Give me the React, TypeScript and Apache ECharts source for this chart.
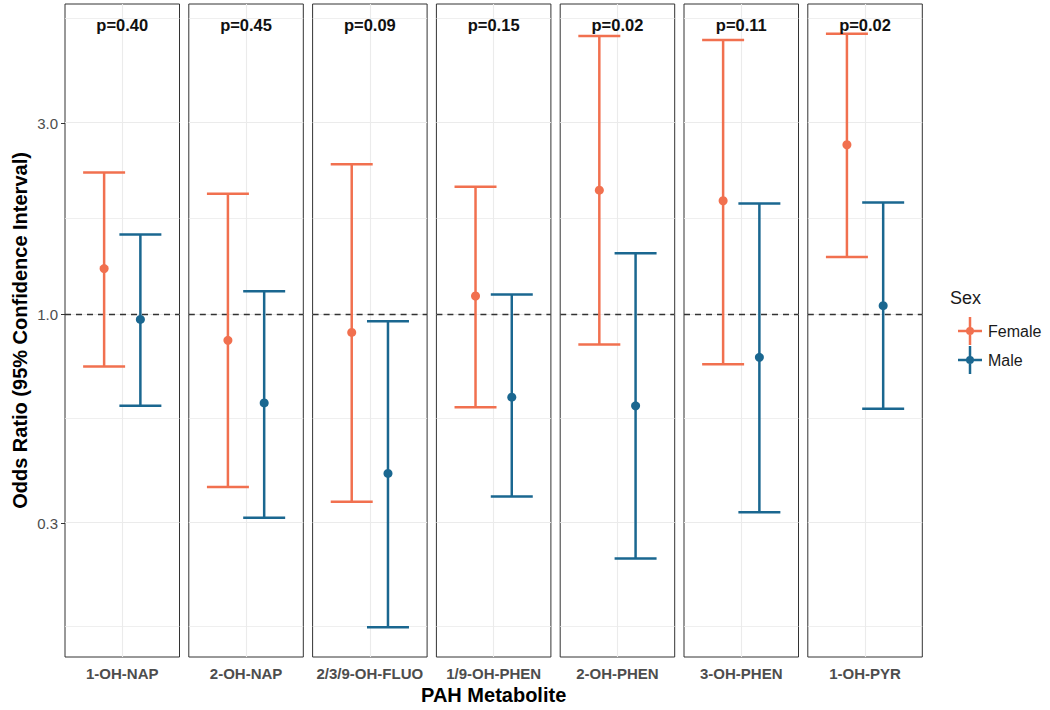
import React, { useEffect, useRef } from "react";
import * as echarts from "echarts";

// ---------- data ----------
const metabolites = ["1-OH-NAP", "2-OH-NAP", "2/3/9-OH-FLUO", "1/9-OH-PHEN", "2-OH-PHEN", "3-OH-PHEN", "1-OH-PYR"];
const pLabels = ["p=0.40", "p=0.45", "p=0.09", "p=0.15", "p=0.02", "p=0.11", "p=0.02"];
const femaleOR = [1.3, 0.86, 0.9, 1.11, 2.04, 1.92, 2.65];
const femaleLower = [0.74, 0.37, 0.34, 0.585, 0.84, 0.75, 1.39];
const femaleUpper = [2.26, 2.0, 2.37, 2.08, 4.95, 4.84, 5.02];
const maleOR = [0.97, 0.6, 0.4, 0.62, 0.59, 0.78, 1.05];
const maleLower = [0.59, 0.31, 0.165, 0.35, 0.245, 0.32, 0.58];
const maleUpper = [1.58, 1.14, 0.96, 1.12, 1.42, 1.89, 1.9];
const yTicks = [0.3, 1.0, 3.0];
const sexes = ["Female", "Male"];

// ---------- style / layout ----------
const COLORS = ["#F1704F", "#1A6790"];
const DODGE = [-0.19, 0.19];
const CAP = 0.22;
const PANEL_LEFT = 65;
const PANEL_STEP = 123.8;
const PANEL_W = 114.5;
const PANEL_TOP = 4;
const PANEL_H = 653;
const FONT = "'Liberation Sans', Arial, Helvetica, sans-serif";
const LEGEND_ICON =
  "path://M0 12.75h24v2.5h-24Z M10.75 0h2.5v28h-2.5Z M8 14a4 4 0 1 1 8 0a4 4 0 1 1 -8 0Z";

const lg = (v: number) => Math.log10(v);

function buildOption() {
  const allLo = [...femaleLower, ...maleLower].map(lg);
  const allHi = [...femaleUpper, ...maleUpper].map(lg);
  const dMin = Math.min(...allLo);
  const dMax = Math.max(...allHi);
  const ext = (dMax - dMin) * 0.05;
  const yMin = dMin - ext;
  const yMax = dMax + ext;

  const major = yTicks.map(lg);
  // ggplot-style minor breaks: midpoints, extended by the first break gap
  const bd = major[1] - major[0];
  const ext2 = [major[0] - bd, ...major, major[major.length - 1] + bd];
  const minor: number[] = [];
  for (let i = 0; i < ext2.length - 1; i++) minor.push((ext2[i] + ext2[i + 1]) / 2);

  const lows = [femaleLower, maleLower];
  const mids = [femaleOR, maleOR];
  const highs = [femaleUpper, maleUpper];

  const grids: any[] = [];
  const xAxes: any[] = [];
  const yAxes: any[] = [];
  const series: any[] = [];
  const graphics: any[] = [];

  metabolites.forEach((m, i) => {
    const left = PANEL_LEFT + i * PANEL_STEP;
    grids.push({
      left,
      top: PANEL_TOP,
      width: PANEL_W,
      height: PANEL_H,
      show: true,
      borderColor: "#333333",
      borderWidth: 1,
      backgroundColor: "transparent",
    });
    xAxes.push({
      gridIndex: i,
      type: "category",
      data: [m],
      boundaryGap: true,
      axisLine: { show: false },
      axisTick: { show: true, alignWithLabel: true, length: 4, lineStyle: { color: "#333333", width: 1 } },
      axisLabel: { fontSize: 15, fontWeight: "bold", color: "#4D4D4D", margin: 9, fontFamily: FONT },
      splitLine: { show: false },
    });
    const yAx: any = {
      gridIndex: i,
      type: "value",
      min: yMin,
      max: yMax,
      axisLine: { show: false },
      splitLine: { show: false },
      axisTick: { show: false },
      axisLabel: { show: false },
    };
    if (i === 0) {
      yAx.axisTick = { show: true, length: 4, lineStyle: { color: "#333333" }, customValues: major };
      yAx.axisLabel = {
        show: true,
        customValues: major,
        formatter: (v: number) => Math.pow(10, v).toFixed(1),
        color: "#4D4D4D",
        fontSize: 15,
        margin: 7,
        fontFamily: FONT,
      };
      yAx.name = "Odds Ratio (95% Confidence Interval)";
      yAx.nameLocation = "middle";
      yAx.nameGap = 35;
      yAx.nameTextStyle = { fontSize: 20, fontWeight: "bold", color: "#000000", fontFamily: FONT };
    }
    yAxes.push(yAx);

    // grid lines + reference line
    series.push({
      type: "line",
      name: "grid" + i,
      xAxisIndex: i,
      yAxisIndex: i,
      data: [],
      silent: true,
      z: 1,
      markLine: {
        silent: true,
        symbol: "none",
        z: 1,
        label: { show: false },
        animation: false,
        data: [
          ...minor.map((v) => ({ yAxis: v, lineStyle: { color: "#EBEBEB", width: 0.8, type: "solid" } })),
          ...major.map((v) => ({ yAxis: v, lineStyle: { color: "#EBEBEB", width: 1.1, type: "solid" } })),
          { xAxis: m, lineStyle: { color: "#EBEBEB", width: 1.1, type: "solid" } },
          { yAxis: 0, lineStyle: { color: "#333333", width: 1.3, type: [6, 5] } },
        ],
      },
    });

    // error bars
    sexes.forEach((s, k) => {
      series.push({
        type: "custom",
        name: s,
        xAxisIndex: i,
        yAxisIndex: i,
        z: 3,
        itemStyle: { color: COLORS[k] },
        encode: { x: 0, y: [1, 2, 3] },
        data: [[0, lg(lows[k][i]), lg(mids[k][i]), lg(highs[k][i])]],
        renderItem: (params: any, api: any) => {
          const band = api.size([1, 0])[0];
          const unit = band / 1.2;
          const c = api.coord([api.value(0), api.value(2)]);
          const x = c[0] + DODGE[k] * unit;
          const yLo = api.coord([api.value(0), api.value(1)])[1];
          const yHi = api.coord([api.value(0), api.value(3)])[1];
          const half = CAP * unit;
          const st = { stroke: COLORS[k], lineWidth: 2.5 };
          return {
            type: "group",
            children: [
              { type: "line", shape: { x1: x, y1: yHi, x2: x, y2: yLo }, style: st },
              { type: "line", shape: { x1: x - half, y1: yHi, x2: x + half, y2: yHi }, style: st },
              { type: "line", shape: { x1: x - half, y1: yLo, x2: x + half, y2: yLo }, style: st },
              { type: "circle", shape: { cx: x, cy: c[1], r: 4.5 }, style: { fill: COLORS[k] } },
            ],
          };
        },
      });
    });

    graphics.push({
      type: "text",
      x: left + PANEL_W / 2,
      y: 25,
      z: 10,
      style: {
        text: pLabels[i],
        fontSize: 16.5,
        fontWeight: "bold",
        fill: "#111111",
        align: "center",
        verticalAlign: "middle",
        fontFamily: FONT,
      },
    });
  });

  graphics.push({
    type: "text",
    x: PANEL_LEFT + (metabolites.length - 1) * PANEL_STEP / 2 + PANEL_W / 2,
    y: 695,
    style: {
      text: "PAH Metabolite",
      fontSize: 20,
      fontWeight: "bold",
      fill: "#000000",
      align: "center",
      verticalAlign: "middle",
      fontFamily: FONT,
    },
  });
  graphics.push({
    type: "text",
    x: 950,
    y: 298,
    style: { text: "Sex", fontSize: 18, fill: "#1A1A1A", align: "left", verticalAlign: "middle", fontFamily: FONT },
  });

  return {
    animation: false,
    backgroundColor: "#FFFFFF",
    color: COLORS,
    textStyle: { fontFamily: FONT },
    grid: grids,
    xAxis: xAxes,
    yAxis: yAxes,
    legend: {
      orient: "vertical",
      left: 953,
      top: 312,
      itemWidth: 24,
      itemHeight: 28,
      itemGap: 1,
      selectedMode: false,
      itemStyle: { borderWidth: 0 },
      data: sexes.map((s) => ({ name: s, icon: LEGEND_ICON })),
      textStyle: { fontSize: 16, color: "#1A1A1A", padding: [0, 0, 0, 1], fontFamily: FONT },
    },
    graphic: graphics,
    series,
  };
}

export default function App() {
  const ref = useRef<HTMLDivElement>(null);
  useEffect(() => {
    if (!ref.current) return;
    const chart = echarts.init(ref.current, null, { renderer: "svg" });
    chart.setOption(buildOption() as any);
    return () => chart.dispose();
  }, []);
  return (
    <div
      ref={ref}
      style={{ position: "absolute", left: 0, top: 0, width: 1050, height: 710, background: "#fff" }}
    />
  );
}
